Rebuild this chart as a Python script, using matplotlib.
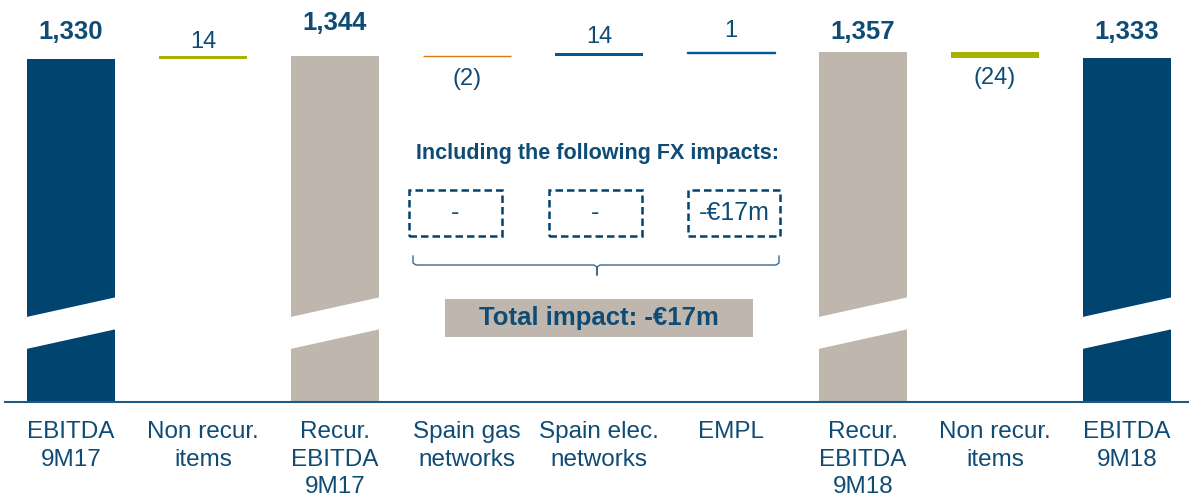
import matplotlib
matplotlib.use("Agg")
import matplotlib.pyplot as plt
from matplotlib.patches import Polygon, Rectangle
from matplotlib.lines import Line2D

plt.rcParams['font.family'] = ['Liberation Sans', 'DejaVu Sans']

# ---------------- data ----------------
categories = ["EBITDA\n9M17", "Non recur.\nitems", "Recur.\nEBITDA\n9M17",
              "Spain gas\nnetworks", "Spain elec.\nnetworks", "EMPL",
              "Recur.\nEBITDA\n9M18", "Non recur.\nitems", "EBITDA\n9M18"]
kinds = ["total", "delta", "total", "delta", "delta", "delta", "total", "delta", "total"]
values = [1330, 14, 1344, -2, 14, 1, 1357, -24, 1333]
value_labels = ["1,330", "14", "1,344", "(2)", "14", "1", "1,357", "(24)", "1,333"]
fx_labels = ["-", "-", "-€17m"]
fx_title = "Including the following FX impacts:"
total_fx_label = "Total impact: -€17m"

# ---------------- styles ----------------
NAVY = "#00446F"
BEIGE = "#BFB7AE"
OLIVE = "#A8B200"
ORANGE = "#E07A10"
BLUE = "#005A96"
TEXT = "#0F4C75"
bar_colors = [NAVY, OLIVE, BEIGE, ORANGE, BLUE, BLUE, BEIGE, OLIVE, NAVY]
label_offsets_px = [27, 14, 33, 23, 16, 21, 20, 20, 26]

W, H = 1189, 496
fig = plt.figure(figsize=(W / 100, H / 100), dpi=100)

def fx(px):
    return px / W

def fy(py):
    return 1 - py / H

ax = fig.add_axes([fx(5), fy(402), fx(1184), 402 / H])
ax.set_xlim(-0.5, 8.47)
ax.set_ylim(0, 1560)

bw = 0.667
running = 0
for i, (k, v, c) in enumerate(zip(kinds, values, bar_colors)):
    if k == "total":
        ax.bar(i, v, width=bw, color=c, linewidth=0)
        running = v
        top = v
        ax.annotate(value_labels[i], (i, top), xytext=(0, label_offsets_px[i]),
                    textcoords="offset pixels", ha="center", va="center",
                    fontsize=18.5, fontweight="bold", color=TEXT)
        # axis-break band
        lo_l, hi_l, lo_r, hi_r = 209, 333, 279, 403
        ext = 0.02
        poly = Polygon([(i - bw / 2 - ext, lo_l - 5), (i + bw / 2 + ext, lo_r + 5),
                        (i + bw / 2 + ext, hi_r + 5), (i - bw / 2 - ext, hi_l - 5)],
                       closed=True, facecolor="white", edgecolor="none", zorder=3)
        ax.add_patch(poly)
    else:
        start = running
        end = running + v
        lw = 1.0 if abs(v) < 5 else 0
        ax.bar(i, v, bottom=start, width=bw, color=c, edgecolor=c, linewidth=lw)
        running = end
        if v >= 0:
            ax.annotate(value_labels[i], (i, max(start, end)), xytext=(0, label_offsets_px[i]),
                        textcoords="offset pixels", ha="center", va="center",
                        fontsize=17, color=TEXT)
        else:
            ax.annotate(value_labels[i], (i, min(start, end)), xytext=(0, -label_offsets_px[i]),
                        textcoords="offset pixels", ha="center", va="center",
                        fontsize=17, color=TEXT)

for s in ["top", "right", "left"]:
    ax.spines[s].set_visible(False)
ax.spines["bottom"].set_color("#1F5A85")
ax.spines["bottom"].set_linewidth(1.5)
ax.set_yticks([])
ax.set_xticks(range(len(categories)))
ax.set_xticklabels(categories, fontsize=17.5, color=TEXT, linespacing=1.3)
ax.tick_params(axis="x", length=0, pad=14)

# ---------------- FX annotation ----------------
fig.text(fx(598), fy(154), fx_title, ha="center", va="center",
         fontsize=15.5, fontweight="bold", color=TEXT)

boxes_px = [(409, 502), (549, 642), (688, 780)]
for (x0, x1), lab in zip(boxes_px, fx_labels):
    r = Rectangle((fx(x0), fy(236)), fx(x1 - x0), (236 - 190) / H,
                  transform=fig.transFigure, fill=False, edgecolor=NAVY,
                  linewidth=1.8, linestyle=(0, (3, 1.6)))
    fig.add_artist(r)
    fig.text(fx((x0 + x1) / 2), fy(213), lab, ha="center", va="center",
             fontsize=18, color=TEXT)

# brace
bx0, bx1, bmid = 413, 779, 597
brace = Line2D([fx(bx0), fx(bx0), fx(bx0 + 3), fx(bmid - 3), fx(bmid), fx(bmid),
                fx(bmid), fx(bmid + 3), fx(bx1 - 3), fx(bx1), fx(bx1)],
               [fy(256), fy(263), fy(265), fy(265), fy(267), fy(275),
                fy(267), fy(265), fy(265), fy(263), fy(256)],
               transform=fig.transFigure, color="#3A6A90", linewidth=1.0)
fig.add_artist(brace)

tb = Rectangle((fx(445), fy(337)), fx(753 - 445), (337 - 299) / H,
               transform=fig.transFigure, facecolor=BEIGE, edgecolor="none")
fig.add_artist(tb)
fig.text(fx(599), fy(318), total_fx_label, ha="center", va="center",
         fontsize=18.5, fontweight="bold", color=TEXT)

fig.savefig("out.png", dpi=100)
